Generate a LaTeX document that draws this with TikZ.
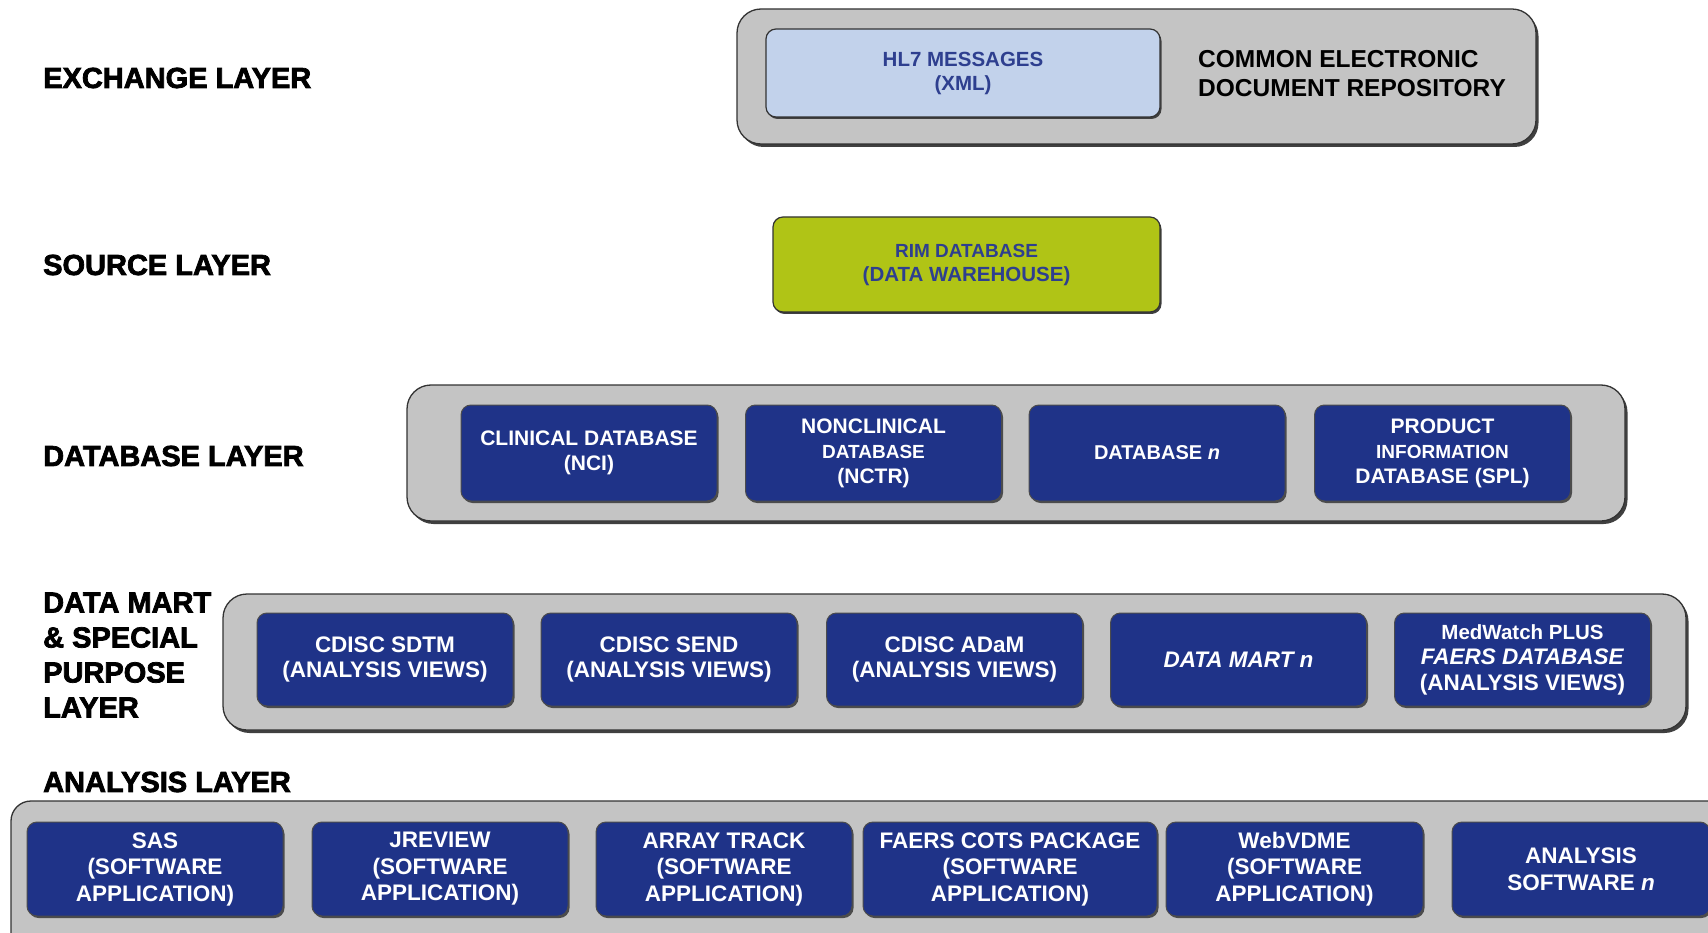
\documentclass[tikz,border=0pt]{standalone}
\usepackage{fontspec}
\setmainfont{Liberation Sans}
\newfontfamily\heavyfont[FakeBold=2.5]{Liberation Sans Bold}
\definecolor{laygray}{RGB}{196,196,196}
\definecolor{boxblue}{RGB}{31,51,136}
\definecolor{hlblue}{RGB}{194,210,235}
\definecolor{rimgreen}{RGB}{176,196,22}
\definecolor{darktext}{RGB}{46,63,143}
\tikzset{
  layerbox/.style={rounded corners=24pt, fill=laygray, draw=black!80, line width=1.3pt,
    preaction={fill=black!75, transform canvas={xshift=2.5pt,yshift=-3pt}}},
  bluebox/.style={rounded corners=10pt, fill=boxblue, draw=black!70, line width=1pt,
    text=white, align=center, inner sep=2pt,
    font=\bfseries\fontsize{21}{25}\selectfont,
    preaction={fill=black!70, transform canvas={xshift=1.5pt,yshift=-2pt}}},
  lightbox/.style={rounded corners=10pt, draw=black!80, line width=1.2pt,
    text=darktext, align=center, inner sep=2pt,
    font=\bfseries\fontsize{20.5}{24}\selectfont,
    preaction={fill=black!75, transform canvas={xshift=1.5pt,yshift=-2pt}}},
  laylabel/.style={anchor=west, align=left, inner sep=0pt,
    font=\heavyfont\fontsize{29}{35}\selectfont, text=black},
  abox/.style={bluebox, minimum height=94, font=\bfseries\fontsize{22.5}{26.5}\selectfont},
  dbox/.style={bluebox, minimum height=96, minimum width=256},
  mbox/.style={bluebox, minimum height=93, minimum width=256, font=\bfseries\fontsize{22.5}{25.5}\selectfont},
}
\begin{document}
\begin{tikzpicture}[x=1pt,y=-1pt]
\useasboundingbox (0,0) rectangle (1708,933);
\fill[white] (0,0) rectangle (1708,933);
\clip (0,0) rectangle (1708,933);

% layer labels
\node[laylabel] (lex) at (43,78) {EXCHANGE LAYER};
\node[laylabel] (lso) at (43,265) {SOURCE LAYER};
\node[laylabel] (ldb) at (43,456) {DATABASE LAYER};
\node[laylabel] (ldm) at (43,655) {DATA MART\\\& SPECIAL\\PURPOSE\\LAYER};
\node[laylabel] (lan) at (43,782) {ANALYSIS LAYER};

% exchange layer
\node[layerbox, minimum width=799, minimum height=135] (exL) at (1136.5,76.5) {};
\node[lightbox, fill=hlblue, minimum width=394, minimum height=88] (hl7) at (963,73)
  {HL7 MESSAGES\\(XML)};
\node[anchor=west, align=left, inner sep=0pt, font=\bfseries\fontsize{24.5}{29}\selectfont] (cedr) at (1198,74)
  {COMMON ELECTRONIC\\DOCUMENT REPOSITORY};

% source layer
\node[lightbox, fill=rimgreen, minimum width=387, minimum height=95] (rim) at (966.5,264.5)
  {{\fontsize{19}{23}\selectfont RIM DATABASE}\\(DATA WAREHOUSE)};

% database layer
\node[layerbox, minimum width=1218, minimum height=136] (dbL) at (1016,453) {};
\node[dbox] (db1) at (589,453) {CLINICAL DATABASE\\(NCI)};
\node[dbox] (db2) at (873.5,453) {NONCLINICAL\\{\fontsize{19}{21}\selectfont DATABASE}\\(NCTR)};
\node[dbox] (db3) at (1157,453) {{\fontsize{20}{22}\selectfont DATABASE \textit{n}}};
\node[dbox] (db4) at (1442.5,453) {PRODUCT\\{\fontsize{19}{21}\selectfont INFORMATION}\\DATABASE (SPL)};

% data mart layer
\node[layerbox, minimum width=1463, minimum height=136] (dmL) at (954.5,662) {};
\node[mbox] (dm1) at (385,659.5) {CDISC SDTM\\(ANALYSIS VIEWS)};
\node[mbox] (dm2) at (669,659.5) {CDISC SEND\\(ANALYSIS VIEWS)};
\node[mbox] (dm3) at (954.5,659.5) {CDISC ADaM\\(ANALYSIS VIEWS)};
\node[mbox] (dm4) at (1238.5,659.5) {\itshape DATA MART \textit{n}};
\node[mbox] (dm5) at (1522.5,659.5) {{\fontsize{20.5}{26}\selectfont MedWatch PLUS}\\\textit{FAERS DATABASE}\\(ANALYSIS VIEWS)};

% analysis layer
\node[layerbox, rounded corners=20pt, minimum width=1730, minimum height=160] (anL) at (876,881) {};
\node[abox, minimum width=256] (a1) at (155,869) {SAS\\(SOFTWARE\\APPLICATION)};
\node[abox, minimum width=256] (a2) at (440,869) {JREVIEW\\(SOFTWARE\\APPLICATION)};
\node[abox, minimum width=256] (a3) at (724,869) {ARRAY TRACK\\(SOFTWARE\\APPLICATION)};
\node[abox, minimum width=294] (a4) at (1010,869) {FAERS COTS PACKAGE\\(SOFTWARE\\APPLICATION)};
\node[abox, minimum width=257] (a5) at (1294.5,869) {WebVDME\\(SOFTWARE\\APPLICATION)};
\node[abox, minimum width=258] (a6) at (1581,869) {ANALYSIS\\SOFTWARE \textit{n}};
\end{tikzpicture}
\end{document}
